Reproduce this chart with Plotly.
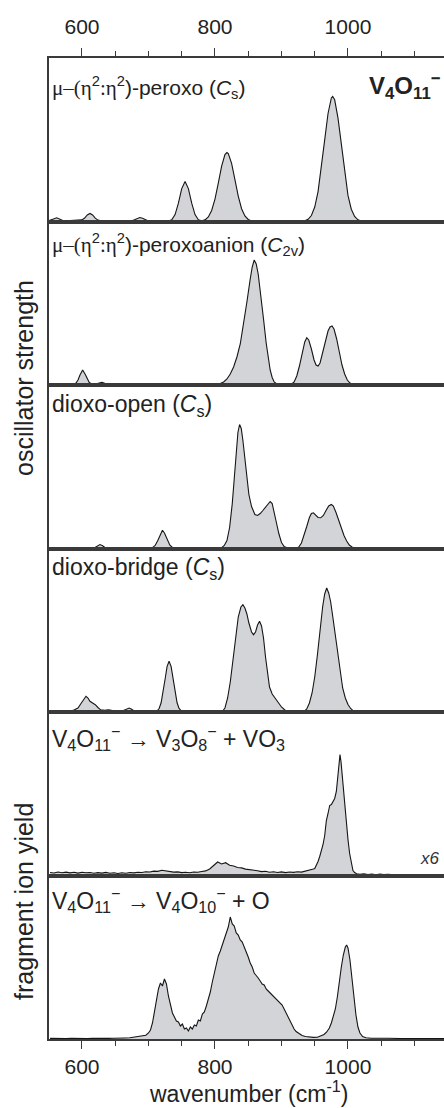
import plotly.graph_objects as go
from plotly.subplots import make_subplots

# ---------------- data (heights in arbitrary units) ----------------
tick_vals = [600, 800, 1000]
tick_text = ["600", "800", "1000"]

# panel 1: mu-(eta2:eta2)-peroxo (Cs)
x1 = [550, 553, 557, 562, 567, 571, 576, 582, 590, 596, 600, 604, 608, 612, 616, 620, 624, 630, 640, 655,
      668, 675, 679, 683, 687, 691, 695, 699, 705, 715, 725, 730, 735, 740, 745, 750, 755, 760, 765, 770,
      775, 780, 785, 790, 795, 800, 805, 810, 815, 818, 820, 825, 830, 835, 840, 845, 850, 855, 862, 880,
      910, 930, 935, 940, 945, 950, 955, 960, 965, 970, 975, 977, 980, 985, 990, 995, 1000, 1005, 1010, 1015,
      1020, 1026, 1040, 1080, 1150]
y1 = [0.8, 1.2, 2.4, 3.7, 2.4, 1.0, 0.6, 0.8, 0.6, 0.8, 1.6, 3.5, 6.5, 8.0, 6.5, 3.4, 1.4, 0.5, 0.4, 0.6,
      0.4, 0.8, 1.8, 3.3, 4.0, 3.3, 1.8, 0.8, 0.2, 0, 0, 0.4, 1.8, 6.9, 18.3, 32.9, 40, 32.9, 18.3, 6.9,
      1.8, 0.8, 1.6, 4.5, 11, 22.4, 38.4, 55.3, 66.9, 69, 68, 58.2, 41.9, 25.4, 12.8, 5.5, 2.0, 0.6, 0, 0,
      0, 0.2, 0.8, 2.2, 6, 14.5, 29.9, 53.2, 81.6, 108, 123.5, 125, 121.7, 103.4, 75.8, 47.9, 26.1, 12.3, 5, 1.7,
      0.5, 0, 0, 0, 0]

# panel 2: mu-(eta2:eta2)-peroxoanion (C2v)
x2 = [550, 580, 587, 591, 594, 597, 601, 605, 608, 611, 615, 619, 623, 627, 630, 634, 638, 645, 700,
      795, 803, 808, 813, 818, 823, 828, 833, 838, 843, 848, 853, 856, 859, 862, 865, 869, 873, 877, 880,
      883, 886, 889, 893, 900, 910, 915, 919, 923, 927, 931, 935, 938, 941, 945, 949, 952, 955, 958, 962,
      966, 970, 973, 976, 979, 983, 987, 991, 995, 999, 1003, 1007, 1012, 1030, 1150]
y2 = [0, 0, 0.5, 2, 5, 10, 15, 10.5, 5.5, 2.5, 1, 0.8, 1.5, 2.5, 2.7, 1.8, 0.6, 0, 0,
      0, 0.5, 1.5, 3, 6, 11, 18, 28, 41, 60, 83, 106, 118, 125, 121, 111, 90, 66, 42, 27,
      15, 7.5, 3, 1, 0, 0, 0.8, 3, 9, 19, 32, 43, 47.3, 45, 36, 25, 20, 19, 22, 33,
      45, 54, 58, 59, 56, 46, 33, 20, 11, 5, 2, 0.7, 0, 0, 0]

# panel 3: dioxo-open (Cs)
x3 = [550, 615, 619, 623, 627, 631, 635, 640, 700, 706, 710, 714, 718, 721, 724, 728, 732, 736, 740,
      805, 810, 814, 818, 822, 826, 829, 832, 834.5, 837, 839.5, 842, 845, 848, 851, 855, 860, 864, 868,
      872, 876, 880, 883, 886, 889, 892, 896, 900, 904, 910, 922, 926, 930, 934, 938, 942, 945, 948, 951,
      955, 959, 963, 967, 971, 975, 978, 982, 986, 990, 994, 998, 1002, 1006, 1011, 1030, 1150]
y3 = [0, 0, 0.8, 2.8, 4, 2.8, 0.8, 0, 0, 0.8, 3, 8, 14, 18.3, 15.5, 9, 3.5, 1, 0,
      0, 0.8, 3, 8, 21, 45, 70, 98, 116, 124, 120, 108, 88, 69, 54, 42, 34, 33, 35,
      38, 41, 45, 47, 45, 37, 27, 15, 6, 2, 0.3, 0, 1.5, 5.5, 13, 22, 31, 35, 35.7, 34,
      31, 30.7, 33, 38, 42.5, 44, 42.5, 36, 28, 20, 13, 7.5, 3.5, 1.5, 0.3, 0, 0]

# panel 4: dioxo-bridge (Cs)
x4 = [550, 575, 582, 588, 594, 598, 602, 606, 609, 612, 616, 620, 624, 628, 634, 640, 646, 652, 658, 664,
      668, 671, 674, 678, 684, 700,
      710, 713, 716, 719, 722, 725, 728, 731, 734, 737, 740, 743, 746, 750, 756,
      805, 811, 815, 819, 823, 827, 831, 835, 839, 842, 845, 848, 851, 855, 858, 861, 864, 867, 870, 873,
      876, 879, 882, 886, 890, 895, 900, 905, 911,
      928, 934, 938, 942, 946, 950, 954, 958, 962, 965, 968, 971, 974, 977, 980, 984, 988, 992, 996, 1000,
      1004, 1008, 1013, 1030, 1150]
y4 = [0, 0, 0.7, 2, 4, 8, 12.3, 15.7, 14, 10.7, 9, 7.3, 4.5, 2.2, 1.7, 2.3, 1.5, 0.3, 0.3, 1.7,
      3.3, 4, 3, 1.2, 0.2, 0,
      0, 1.1, 3.5, 9.2, 19.4, 33, 45.6, 50.7, 45.6, 33, 19.4, 9.2, 3.5, 0.7, 0,
      0, 0.5, 4, 14, 30, 52, 76, 95, 105, 107.3, 104, 98, 89, 80, 77.3, 80, 87, 90.7, 86, 74,
      55, 37, 25, 18, 14, 9.5, 5, 2, 0.3,
      0, 0.5, 3, 9, 19, 35, 57, 83, 105.7, 118, 124, 119, 110, 96, 81, 59, 39, 24, 14, 7.5,
      3.5, 1.2, 0.2, 0, 0]

# panel 5: V4O11- -> V3O8- + VO3 (experiment, x6)
x5 = [552, 558, 564, 570, 576, 582, 588, 594, 600, 606, 612, 618, 624, 630, 636, 642, 648, 654, 660, 666,
      672, 678, 684, 690, 696, 702, 708, 714, 720, 726, 732, 738, 744, 750, 756, 762, 768, 774, 780, 786,
      792, 798, 804, 810, 816, 822, 828, 834, 840, 846, 852, 858, 864, 870, 876, 882, 888, 894, 900, 906,
      912, 918, 924, 930, 936, 942, 948,
      950, 952.5, 955, 957.5, 960, 962.5, 965, 967.5, 970, 972.5, 975, 977.5, 980, 982.5, 985, 986.5, 988,
      989.5, 991, 993, 995, 997.5, 1000, 1002.5, 1005, 1007.5, 1010, 1013,
      1018, 1024, 1030, 1036, 1042, 1048, 1054, 1060, 1070, 1150]
y5 = [3, 2.5, 3.5, 2.8, 3.4, 2.6, 3.2, 2.4, 3.3, 2.7, 3.0, 2.2, 2.9, 2.4, 3.1, 2.3, 2.8, 2.0, 2.7, 2.3,
      3.0, 2.6, 3.3, 3.0, 3.8, 3.5, 4.4, 4.1, 5.2, 4.6, 4.0, 3.4, 3.6, 2.9, 3.3, 2.8, 3.5, 3.2, 4.0, 4.6,
      6.5, 9.8, 13.5, 11.5, 12.8, 10.2, 9.5, 8.0, 7.6, 6.4, 6.0, 5.0, 4.8, 3.9, 4.2, 3.3, 3.8, 3.0, 3.6, 2.9,
      3.5, 3.1, 3.7, 3.4, 4.2, 5.0, 6.5,
      7, 10, 14, 19, 25, 31, 40, 55, 62, 70, 71, 74, 77, 84, 102, 112, 121,
      114, 102, 89, 72, 55, 36, 22, 12, 5, 3, 1.8,
      1.2, 1.8, 1.0, 1.5, 0.8, 1.4, 0.9, 1.2, 0.8, 0.8]

# panel 6: V4O11- -> V4O10- + O (experiment)
x6 = [552, 560, 568, 576, 584, 592, 600, 608, 616, 624, 632, 640, 648, 656, 664, 672, 680, 688, 696,
      700, 703, 706, 709, 712, 715, 718, 721, 724, 727, 730, 733, 736, 739, 742, 745, 748, 751, 754, 757,
      760, 763, 766, 769, 772, 775, 778, 781, 784, 787, 790, 793, 796, 799, 802, 805, 808, 811, 814, 817,
      820, 823, 826, 829, 832, 835, 838, 841, 844, 847, 850, 853, 856, 859, 862, 865, 868, 871, 874, 877,
      880, 883, 886, 889, 892, 895, 898, 901, 904, 907, 910, 913, 916, 919, 922, 925, 928, 931,
      936, 942, 948, 954, 960, 964, 968, 972, 975, 978, 981, 984, 987, 990, 993, 996, 998, 1000, 1003, 1006,
      1009, 1012, 1015, 1018, 1022, 1027, 1035, 1045, 1060, 1080, 1150]
y6 = [0.6, 0.4, 0.8, 0.5, 0.7, 0.4, 0.8, 0.5, 0.7, 0.5, 0.9, 0.6, 0.8, 0.6, 1.0, 1.2, 2.0, 2.5, 3.8,
      6, 9, 16, 27, 39, 50, 56, 53, 60, 55, 43, 33, 26, 22, 18, 17, 13, 15, 10, 11,
      8, 12, 10, 14, 13, 19, 18, 25, 27, 33, 40, 47, 57, 66, 76, 83, 88, 94, 100, 106,
      112, 122, 115, 113, 106, 104, 99, 97, 92, 88, 82, 76, 72, 66, 64, 61, 58, 55, 54, 50,
      48, 46, 43, 42, 39, 38, 35, 34, 30, 26, 22, 17, 13, 10, 7.5, 6, 4.5, 3.5,
      2.5, 2.0, 1.6, 1.8, 3.0, 4.5, 7, 11, 16, 22, 30, 42, 58, 72, 84, 92, 94, 91, 79, 60,
      40, 24, 12, 6, 2.5, 1.3, 0.8, 0.5, 0.7, 0.5, 0.5]

series = [(x1, y1), (x2, y2), (x3, y3), (x4, y4), (x5, y5), (x6, y6)]

# ---------------- figure ----------------
W, H = 444, 1108
L, R, T, B = 49, 0, 58, 69
PW, PH = W - L - R, H - T - B
FONT = "Liberation Sans, Arial, Helvetica, sans-serif"
SERIF = "Liberation Serif"
AX = "#3a3a3a"
FILL = "rgb(211,212,215)"


def px(xp):
    return (xp - L) / PW


def py(yp):
    return (H - B - yp) / PH


fig = make_subplots(rows=6, cols=1, shared_xaxes=True, vertical_spacing=0)
for i, (xs, ys) in enumerate(series, start=1):
    fig.add_trace(go.Scatter(x=xs, y=ys, mode="lines", fill="tozeroy", fillcolor=FILL,
                             line=dict(color="#151515", width=1.1), showlegend=False,
                             hoverinfo="skip"), row=i, col=1)

xr = [550.4, 1144.4]
for i in range(1, 7):
    xa = dict(range=xr, showline=True, linecolor=AX, linewidth=1.5, mirror=True,
              showgrid=False, zeroline=False, ticks="", showticklabels=False)
    if i in (1, 6):
        xa.update(ticks="outside", ticklen=8, tickwidth=1.3, tickcolor=AX,
                  tickvals=tick_vals, ticktext=tick_text, showticklabels=True,
                  tickfont=dict(family=FONT, size=21, color="#222"),
                  minor=dict(ticks="outside", ticklen=5, tickwidth=1.3, tickcolor=AX,
                             dtick=50, tick0=0))
        if i == 1:
            xa.update(side="top", ticklabelstandoff=6)
        else:
            xa.update(ticklabelstandoff=0)
    fig.update_xaxes(row=i, col=1, **xa)
    fig.update_yaxes(row=i, col=1, range=[0, 163.5], showline=True, linecolor=AX,
                     linewidth=1.5, ticks="", showticklabels=False, showgrid=False,
                     zeroline=False)

mu = f'<span style="font-family:{SERIF}">μ–(η</span><sup>2</sup><span style="font-family:{SERIF}">:η</span><sup>2</sup>'
labels = [
    (mu + ")-peroxo (<i>C</i><sub>s</sub>)", 88, 21),
    (mu + ")-peroxoanion (<i>C</i><sub>2v</sub>)", 245, 21),
    ("dioxo-open (<i>C</i><sub>s</sub>)", 406, 23),
    ("dioxo-bridge (<i>C</i><sub>s</sub>)", 568, 23),
    ("V<sub>4</sub>O<sub>11</sub><sup>−</sup> → V<sub>3</sub>O<sub>8</sub><sup>−</sup> + VO<sub>3</sub>", 738, 23),
    ("V<sub>4</sub>O<sub>11</sub><sup>−</sup> → V<sub>4</sub>O<sub>10</sub><sup>−</sup> + O", 900, 23),
]
for text, yp, fs in labels:
    fig.add_annotation(x=px(50), y=py(yp), xref="paper", yref="paper", text=text,
                       showarrow=False, xanchor="left", yanchor="middle",
                       font=dict(family=FONT, size=fs, color="#222"))

fig.add_annotation(x=px(443), y=py(86), xref="paper", yref="paper",
                   text="<b>V<sub>4</sub>O<sub>11</sub><sup>−</sup></b>", showarrow=False,
                   xanchor="right", yanchor="middle",
                   font=dict(family=FONT, size=24, color="#222"))
fig.add_annotation(x=px(430), y=py(858), xref="paper", yref="paper", text="<i>x6</i>",
                   showarrow=False, xanchor="center", yanchor="middle",
                   font=dict(family=FONT, size=17, color="#333"))

title_font = dict(family=FONT, size=25, color="#222")
fig.add_annotation(x=px(24), y=py(378), xref="paper", yref="paper", text="oscillator strength",
                   textangle=-90, showarrow=False, xanchor="center", yanchor="middle",
                   font=title_font)
fig.add_annotation(x=px(24), y=py(902), xref="paper", yref="paper", text="fragment ion yield",
                   textangle=-90, showarrow=False, xanchor="center", yanchor="middle",
                   font=title_font)
fig.add_annotation(x=px(248), y=py(1092), xref="paper", yref="paper",
                   text="wavenumber (cm<sup>-1</sup>)", showarrow=False,
                   xanchor="center", yanchor="middle", borderpad=0,
                   font=dict(family=FONT, size=23, color="#222"))

fig.update_layout(width=W, height=H, margin=dict(l=L, r=R, t=T, b=B),
                  paper_bgcolor="white", plot_bgcolor="white",
                  font=dict(family=FONT, color="#222"))

fig.write_html("out.html")
